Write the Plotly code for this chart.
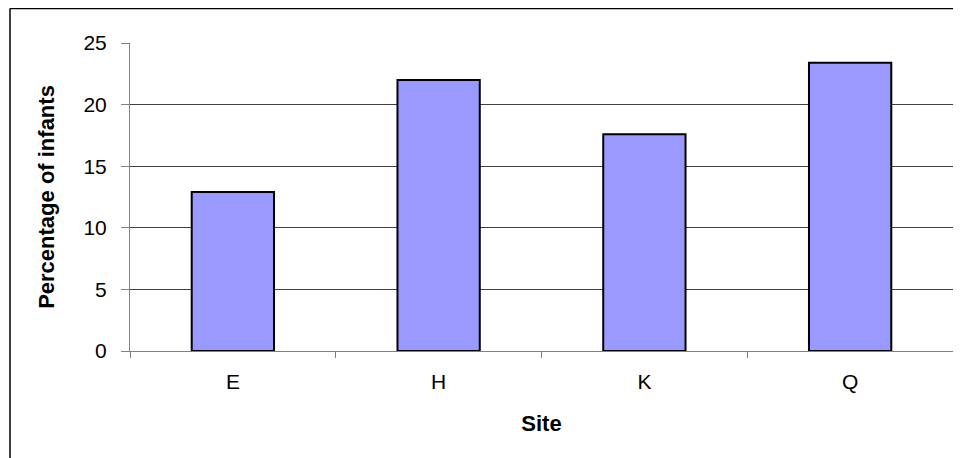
"""Bar chart: percentage of infants by site."""

import plotly.graph_objects as go

sites = ["E", "H", "K", "Q"]
pct_infants = [12.9, 22.0, 17.6, 23.4]
y_ticks = [0, 5, 10, 15, 20, 25]

W, H = 961, 458
# the html page adds an 8px body margin, so everything is shifted by -8
L, R, T, B = 122, 16, 35, 115
pw, ph = W - L - R, H - T - B

fig = go.Figure()
fig.add_trace(
    go.Bar(
        x=sites, y=pct_infants,
        marker=dict(color="#9999FF", line=dict(color="black", width=2)),
        width=0.4, showlegend=False,
    )
)

fig.update_layout(
    width=W, height=H,
    margin=dict(l=L, r=R, t=T, b=B),
    plot_bgcolor="white", paper_bgcolor="white",
    font=dict(family="Arial, Liberation Sans, sans-serif", color="black", size=21),
    xaxis=dict(
        title=dict(text="<b>Site</b>", font=dict(size=22), standoff=23),
        showline=True, linecolor="#808080", linewidth=1,
        ticks="outside", ticklen=6, tickcolor="#808080",
        tickson="boundaries", showgrid=False,
        ticklabelstandoff=12,
    ),
    yaxis=dict(
        title=dict(text="<b>Percentage of infants</b>", font=dict(size=22), standoff=22),
        range=[0, 25], tickvals=y_ticks,
        showline=True, linecolor="#808080", linewidth=1,
        ticks="outside", ticklen=8, tickcolor="#808080",
        showgrid=True, gridcolor="#404040", gridwidth=1,
        zeroline=False, ticklabelstandoff=10,
    ),
    shapes=[
        # outer chart border (only left and top edges visible)
        dict(type="line", xref="paper", yref="paper",
             x0=(2 - L) / pw, x1=1.2,
             y0=1 + (T - 0.5) / ph, y1=1 + (T - 0.5) / ph,
             line=dict(color="black", width=1.5)),
        dict(type="line", xref="paper", yref="paper",
             x0=(2 - L) / pw, x1=(2 - L) / pw,
             y0=-0.5, y1=1 + (T - 0.5) / ph,
             line=dict(color="black", width=1.5)),
    ],
)

fig.write_html("out.html")
